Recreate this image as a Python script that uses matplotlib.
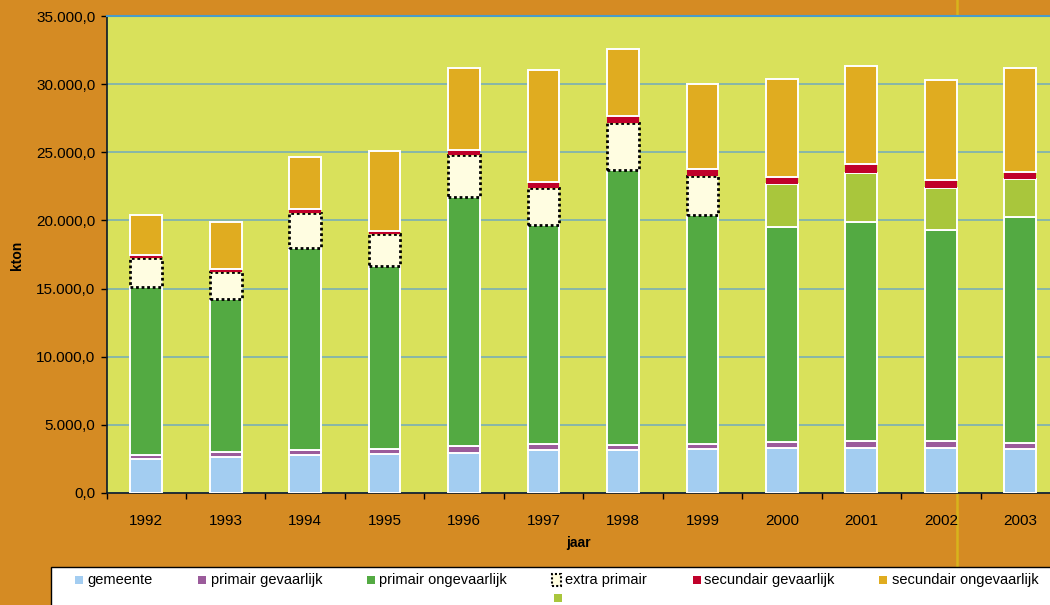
"""
Afvalstromen per jaar (kton), gestapelde staven
"""

import numpy as np
import matplotlib
matplotlib.use('Agg')
from matplotlib import pyplot as plt
from matplotlib.patches import Rectangle
from matplotlib.lines import Line2D
from matplotlib.ticker import FuncFormatter

plt.rcParams['font.family'] = ['Liberation Sans', 'DejaVu Sans']

jaren = ['1992', '1993', '1994', '1995', '1996', '1997', '1998', '1999',
         '2000', '2001', '2002', '2003']

gemeente = [2460, 2610, 2810, 2880, 2900, 3120, 3140, 3220, 3320, 3320, 3320, 3200]
primair_gevaarlijk = [350, 370, 370, 370, 570, 500, 400, 400, 420, 520, 490, 490]
primair_ongevaarlijk = [12310, 11280, 14810, 13390, 18270, 16010, 20160, 16750,
                        15800, 16030, 15480, 16530]
extra_primair = [2140, 1920, 2570, 2330, 3040, 2720, 3480, 2870, 0, 0, 0, 0]
zonder_naam = [0, 0, 0, 0, 0, 0, 0, 0, 3110, 3640, 3110, 2790]
secundair_gevaarlijk = [240, 270, 300, 240, 370, 470, 490, 510, 540, 630, 590, 540]
secundair_ongevaarlijk = [2920, 3450, 3820, 5890, 6000, 8230, 4900, 6270,
                          7180, 7210, 7330, 7600]

W, H = 1050, 605
BG = '#D58B23'
PLOT_BG = '#D9E15B'

fig = plt.figure(figsize=(W / 100, H / 100), dpi=100, facecolor=BG)

# gele verticale lijn achter de grafiek
fig.add_artist(Line2D([956.8 / W] * 2, [0, 1], color='#D8B41C', lw=1.8,
                      transform=fig.transFigure, zorder=0))

ax = fig.add_axes([106.5 / W, (H - 493) / H, (1060 - 106.5) / W, 477 / H],
                  zorder=1)
ax.set_facecolor(PLOT_BG)

x = np.arange(len(jaren))
breedte = 0.40
bottom = np.zeros(len(jaren))

series = [
    (gemeente, '#A3CDF1', 'white', '-'),
    (primair_gevaarlijk, '#9B5B9B', 'white', '-'),
    (primair_ongevaarlijk, '#53AA42', 'white', '-'),
    (extra_primair, '#FFFDE1', 'black', (0, (1, 1))),
    (zonder_naam, '#A9C63C', 'white', '-'),
    (secundair_gevaarlijk, '#C0002A', 'none', '-'),
    (secundair_ongevaarlijk, '#E0AC20', 'white', '-'),
]

for vals, kleur, rand, stijl in series:
    vals = np.array(vals, dtype=float)
    lw = 2.0 if rand == 'black' else 1.4
    mask = vals > 0
    ax.bar(x[mask], vals[mask], breedte, bottom=bottom[mask], color=kleur,
           edgecolor=rand, linewidth=lw, linestyle=stijl, zorder=3)
    bottom += vals

ax.set_xlim(-0.5, 11.5)
ax.set_ylim(0, 35000)
ax.set_yticks(np.arange(0, 35001, 5000))
ax.yaxis.set_major_formatter(FuncFormatter(
    lambda v, p: f'{v:,.1f}'.replace(',', 'X').replace('.', ',').replace('X', '.')))
ax.grid(axis='y', color='#7AAFB5', lw=1.2, zorder=1)
ax.set_axisbelow(True)

ax.set_xticks(x)
ax.set_xticklabels(jaren)
ax.set_xticks(np.arange(-0.5, 12, 1), minor=True)
ax.tick_params(axis='x', which='major', length=0, pad=15, labelsize=11)
ax.tick_params(axis='x', which='minor', length=4, width=1, color='black')
ax.tick_params(axis='y', length=4, width=1, labelsize=11, pad=4)

for kant in ['left', 'bottom']:
    ax.spines[kant].set_color('#0A1A2A')
    ax.spines[kant].set_linewidth(1.2)
ax.spines['top'].set_color('#4A9CC8')
ax.spines['top'].set_linewidth(1.5)
ax.spines['right'].set_visible(False)

fig.text(578 / W, 1 - 543 / H, 'jaar', ha='center', va='center',
         fontsize=10, fontweight='bold')
fig.text(17 / W, 1 - 255 / H, 'kton', ha='center', va='center',
         fontsize=10, fontweight='bold', rotation=90)

# legenda
fig.add_artist(Rectangle((51 / W, -0.1), 1.1, (H - 567) / H + 0.1,
                         facecolor='white', edgecolor='black', lw=1,
                         transform=fig.transFigure, zorder=2))

legenda = [
    ('gemeente', '#A3CDF1', 75, 87, 580),
    ('primair gevaarlijk', '#9B5B9B', 198, 211, 580),
    ('primair ongevaarlijk', '#53AA42', 367, 379, 580),
    ('extra primair', '#FFFDE1', 552, 565, 580),
    ('secundair gevaarlijk', '#C0002A', 693, 704, 580),
    ('secundair ongevaarlijk', '#E0AC20', 879, 892, 580),
    ('', '#A9C63C', 554, 566, 598),
]
for label, kleur, sx, tx, ty in legenda:
    if label == 'extra primair':
        fig.add_artist(Rectangle((sx / W, 1 - (ty + 6) / H), 9 / W, 12 / H,
                                 facecolor=kleur, edgecolor='black', lw=1.5,
                                 linestyle=(0, (1, 1)),
                                 transform=fig.transFigure, zorder=3))
    else:
        fig.add_artist(Rectangle((sx / W, 1 - (ty + 4) / H), 8 / W, 8 / H,
                                 facecolor=kleur, edgecolor='none',
                                 transform=fig.transFigure, zorder=3))
    if label:
        fig.text(tx / W, 1 - ty / H, label, ha='left', va='center',
                 fontsize=10.5, zorder=4)

plt.savefig('out.png', dpi=100, facecolor=BG)
